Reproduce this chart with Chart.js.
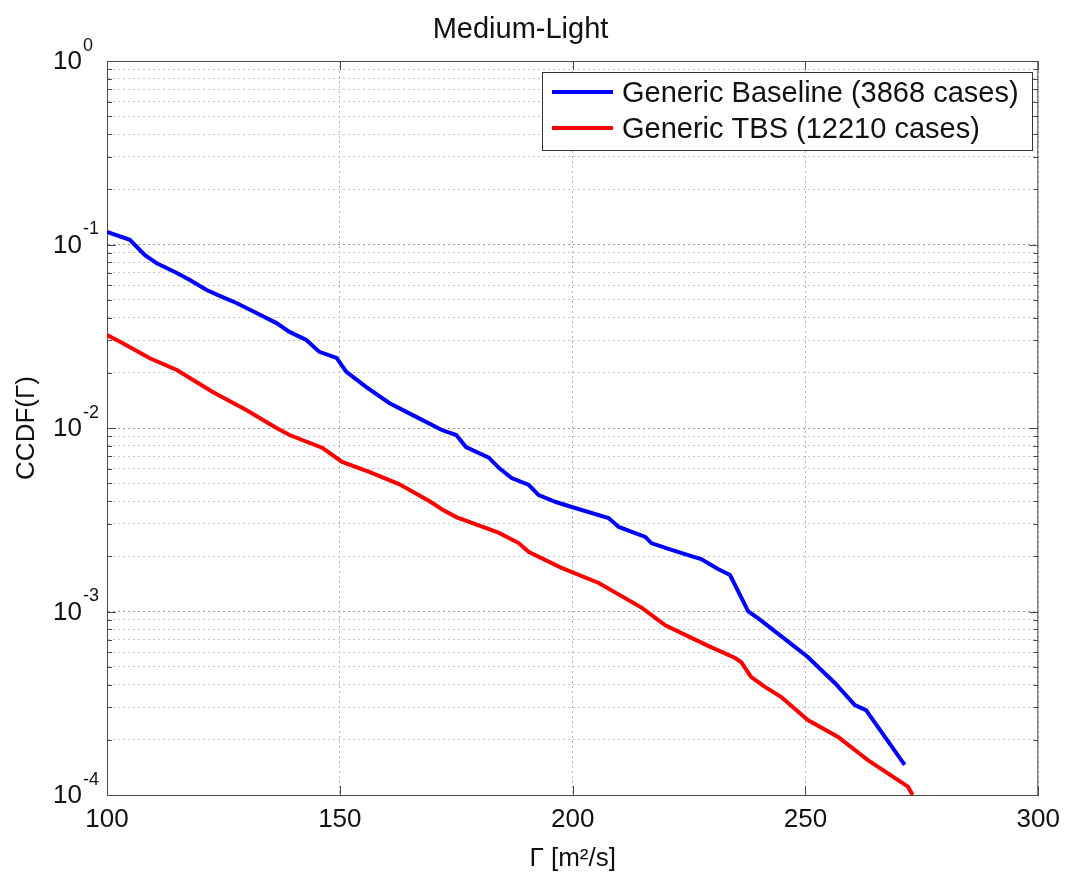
<!DOCTYPE html>
<html>
<head>
<meta charset="utf-8">
<script src="https://cdn.jsdelivr.net/npm/chart.js@4.4.1/dist/chart.umd.min.js"></script>
<style>
  html, body { margin: 0; padding: 0; background: #fff; }
  #wrap { width: 1069px; height: 877px; }
</style>
</head>
<body>
<div id="wrap"><canvas id="c" width="1069" height="877"></canvas></div>
<script>
// ---- data ----
const chartTitle = 'Medium-Light';
const xTitle = 'Γ [m²/s]';
const yTitle = 'CCDF(Γ)';

const baselineLabel = 'Generic Baseline (3868 cases)';
const baselineX = [100, 104.9, 108.1, 110.7, 115, 117.8, 121.4, 124.8, 127.8, 132.1, 136.4, 139.2, 142.8, 145.6, 149.3, 151.4, 155.7, 160.6, 166.4, 171.9, 175, 177.1, 182, 184.2, 186.9, 190.6, 192.7, 196.4, 199.8, 207.7, 209.9, 215.6, 216.9, 219.9, 224.8, 227.6, 231.3, 233.8, 237.7, 239.8, 247.8, 250.5, 256.3, 260.6, 263, 271.3];
const baselineY = [0.117, 0.106, 0.0877, 0.079, 0.070, 0.064, 0.0565, 0.0517, 0.048, 0.0423, 0.0373, 0.0334, 0.0302, 0.026, 0.0241, 0.0202, 0.0167, 0.0137, 0.0115, 0.00975, 0.00916, 0.00787, 0.0069, 0.00605, 0.00534, 0.00489, 0.00431, 0.00395, 0.00371, 0.00323, 0.00289, 0.00255, 0.00236, 0.00222, 0.00203, 0.00193, 0.00170, 0.00158, 0.00100, 0.00092, 0.00064, 0.000565, 0.000408, 0.000309, 0.00029, 0.000146];

const tbsLabel = 'Generic TBS (12210 cases)';
const tbsX = [100, 103.4, 109.2, 115, 122.7, 130, 136.4, 139.2, 146.3, 150.5, 156.3, 162.7, 169.2, 172, 175, 184.2, 188.4, 190.6, 197.6, 205.6, 214.8, 219.9, 229.1, 234.9, 236.2, 238.3, 241.3, 244.8, 250.5, 257, 263.4, 272, 273];
const tbsY = [0.0321, 0.029, 0.024, 0.0207, 0.0157, 0.0125, 0.0100, 0.00916, 0.00778, 0.00653, 0.00576, 0.00495, 0.0040, 0.0036, 0.00327, 0.00268, 0.00236, 0.00211, 0.00173, 0.00143, 0.00105, 0.00084, 0.00065, 0.000558, 0.00053, 0.00044, 0.000388, 0.000342, 0.000256, 0.000207, 0.000155, 0.000111, 0.0001];

const xTicks = [100, 150, 200, 250, 300];
const yExponents = [0, -1, -2, -3, -4];
const yMinorMultipliers = [1, 2, 3, 4, 5, 6, 7, 8, 9];

// ---- helpers ----
const FONT = "'Liberation Sans', Arial, Helvetica, sans-serif";
const toPoints = (xs, ys) => xs.map((x, i) => ({ x: x, y: ys[i] }));
const yGridValues = [];
yExponents.forEach(e => {
  if (e === 0) { yGridValues.push(1); return; }
  yMinorMultipliers.forEach(m => yGridValues.push(m * Math.pow(10, e)));
});
yGridValues.sort((a, b) => a - b);
const isDecade = v => Math.abs(Math.log10(v) - Math.round(Math.log10(v))) < 1e-9;

const frame = {
  id: 'frame',
  afterDatasetsDraw(chart) {
    const { ctx, chartArea: a, scales } = chart;
    ctx.save();
    ctx.strokeStyle = '#4a4a4a';
    ctx.lineWidth = 1;
    ctx.beginPath();
    ctx.moveTo(a.left, a.top + 0.5); ctx.lineTo(a.right, a.top + 0.5);
    ctx.moveTo(a.right - 0.5, a.top); ctx.lineTo(a.right - 0.5, a.bottom);
    // inward x ticks
    scales.x.ticks.forEach(t => {
      const px = Math.round(scales.x.getPixelForValue(t.value)) + 0.5;
      ctx.moveTo(px, a.bottom); ctx.lineTo(px, a.bottom - 9);
      ctx.moveTo(px, a.top); ctx.lineTo(px, a.top + 9);
    });
    // inward y ticks
    scales.y.ticks.forEach(t => {
      const py = Math.round(scales.y.getPixelForValue(t.value)) + 0.5;
      const len = isDecade(t.value) ? 9 : 5;
      ctx.moveTo(a.left, py); ctx.lineTo(a.left + len, py);
      ctx.moveTo(a.right, py); ctx.lineTo(a.right - len, py);
    });
    ctx.stroke();
    ctx.restore();
  },
  afterDraw(chart) {
    const { ctx, scales } = chart;
    const ys = scales.y;
    // y tick labels 10^n
    ctx.save();
    ctx.fillStyle = '#111';
    yExponents.forEach(e => {
      const py = ys.getPixelForValue(Math.pow(10, e));
      ctx.font = '26px ' + FONT;
      ctx.textAlign = 'left';
      ctx.textBaseline = 'middle';
      ctx.fillText('10', 53, py + 1);
      ctx.font = '18px ' + FONT;
      ctx.fillText(String(e), 83, py - 15);
    });
    // legend box
    const lx = 542, ly = 72, lw = 490, lh = 78;
    ctx.fillStyle = '#fff';
    ctx.fillRect(lx, ly, lw, lh);
    ctx.strokeStyle = '#333';
    ctx.lineWidth = 1;
    ctx.strokeRect(lx + 0.5, ly + 0.5, lw, lh);
    const rows = [92, 128];
    chart.data.datasets.forEach((ds, i) => {
      const y = rows[i];
      ctx.strokeStyle = ds.borderColor;
      ctx.lineWidth = 4;
      ctx.beginPath();
      ctx.moveTo(552, y); ctx.lineTo(613, y);
      ctx.stroke();
      ctx.fillStyle = '#111';
      ctx.font = '29px ' + FONT;
      ctx.textAlign = 'left';
      ctx.textBaseline = 'middle';
      ctx.fillText(ds.label, 622, y + 2);
    });
    ctx.restore();
  }
};

new Chart(document.getElementById('c'), {
  type: 'line',
  data: {
    datasets: [
      { label: baselineLabel, data: toPoints(baselineX, baselineY), borderColor: '#0000ff', borderWidth: 4, pointRadius: 0, tension: 0, fill: false },
      { label: tbsLabel, data: toPoints(tbsX, tbsY), borderColor: '#ff0000', borderWidth: 4, pointRadius: 0, tension: 0, fill: false }
    ]
  },
  options: {
    responsive: false,
    animation: false,
    events: [],
    layout: { padding: { left: 0, right: 28, top: 0, bottom: 0 } },
    plugins: {
      legend: { display: false },
      tooltip: { enabled: false },
      title: {
        display: true,
        text: chartTitle,
        color: '#111',
        font: { family: FONT, size: 29, weight: 'normal' },
        padding: { top: 12.6, bottom: 13.6 }
      }
    },
    scales: {
      x: {
        type: 'linear',
        min: 100, max: 300,
        afterBuildTicks: s => { s.ticks = xTicks.map(v => ({ value: v })); },
        afterFit: s => { s.height = 82; },
        ticks: { color: '#111', font: { family: FONT, size: 26 }, padding: 9, maxRotation: 0, autoSkip: false },
        grid: { color: '#b4b4b4', lineWidth: 1, drawTicks: false },
        border: { display: true, color: '#4a4a4a', width: 1, dash: [2, 3] },
        title: { display: true, text: xTitle, color: '#111', font: { family: FONT, size: 26 }, padding: { top: 0, bottom: 3 } }
      },
      y: {
        type: 'logarithmic',
        min: 1e-4, max: 1,
        afterBuildTicks: s => { s.ticks = yGridValues.map(v => ({ value: v, major: isDecade(v) })); },
        afterFit: s => { s.width = 107; },
        ticks: { display: false },
        grid: {
          color: c => (c.tick && isDecade(c.tick.value)) ? '#9a9a9a' : '#c4c4c4',
          lineWidth: 1, drawTicks: false
        },
        border: { display: true, color: '#4a4a4a', width: 1, dash: [2, 3] },
        title: { display: true, text: yTitle, color: '#111', font: { family: FONT, size: 26 }, padding: { top: 11, bottom: 0 } }
      }
    }
  },
  plugins: [frame]
});
</script>
</body>
</html>
